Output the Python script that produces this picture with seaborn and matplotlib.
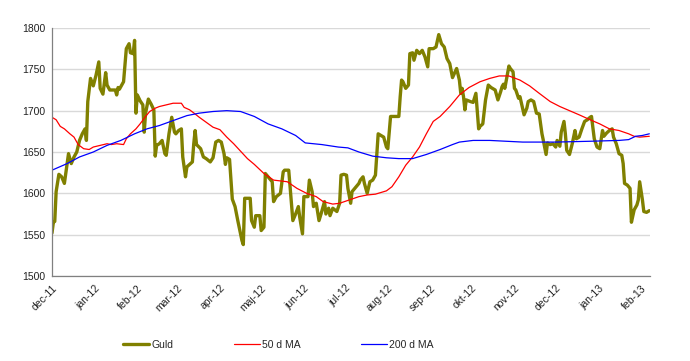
import pandas as pd
import seaborn as sns
import matplotlib.pyplot as plt

# gold price
gold_dates = [
    '2011-12-01', '2011-12-02', '2011-12-03', '2011-12-04', '2011-12-06', '2011-12-08', '2011-12-10',
    '2011-12-12', '2011-12-13', '2011-12-15', '2011-12-17', '2011-12-19', '2011-12-21', '2011-12-23',
    '2011-12-25', '2011-12-26', '2011-12-27', '2011-12-29', '2011-12-31',
    '2012-01-02', '2012-01-04', '2012-01-05', '2012-01-07', '2012-01-09', '2012-01-10', '2012-01-12',
    '2012-01-16', '2012-01-17', '2012-01-18', '2012-01-19', '2012-01-22', '2012-01-24', '2012-01-26',
    '2012-01-27', '2012-01-29', '2012-01-30', '2012-01-31',
    '2012-02-01', '2012-02-03', '2012-02-05', '2012-02-06', '2012-02-07', '2012-02-09', '2012-02-11',
    '2012-02-13', '2012-02-14', '2012-02-15', '2012-02-17', '2012-02-19', '2012-02-21', '2012-02-22',
    '2012-02-24', '2012-02-26', '2012-02-28', '2012-02-29',
    '2012-03-02', '2012-03-04', '2012-03-05', '2012-03-07', '2012-03-08', '2012-03-10', '2012-03-12',
    '2012-03-13', '2012-03-14', '2012-03-15', '2012-03-18', '2012-03-20', '2012-03-22', '2012-03-25',
    '2012-03-27', '2012-03-29', '2012-03-31',
    '2012-04-02', '2012-04-04', '2012-04-05', '2012-04-06', '2012-04-08', '2012-04-10', '2012-04-12',
    '2012-04-14', '2012-04-17', '2012-04-18', '2012-04-19', '2012-04-23', '2012-04-24', '2012-04-26',
    '2012-04-27', '2012-04-30',
    '2012-05-01', '2012-05-03', '2012-05-04', '2012-05-06', '2012-05-09', '2012-05-10', '2012-05-12',
    '2012-05-15', '2012-05-17', '2012-05-18', '2012-05-21', '2012-05-22', '2012-05-24', '2012-05-26',
    '2012-05-28', '2012-05-29', '2012-05-31',
    '2012-06-01', '2012-06-04', '2012-06-05', '2012-06-07', '2012-06-08', '2012-06-10', '2012-06-12',
    '2012-06-14', '2012-06-16', '2012-06-17', '2012-06-19', '2012-06-20', '2012-06-22', '2012-06-25',
    '2012-06-27', '2012-06-28', '2012-06-30',
    '2012-07-02', '2012-07-03', '2012-07-05', '2012-07-06', '2012-07-09', '2012-07-11', '2012-07-12',
    '2012-07-14', '2012-07-15', '2012-07-17', '2012-07-19', '2012-07-21', '2012-07-23', '2012-07-25',
    '2012-07-27', '2012-07-29', '2012-07-31',
    '2012-08-01', '2012-08-03', '2012-08-06', '2012-08-09', '2012-08-10', '2012-08-11', '2012-08-12',
    '2012-08-14', '2012-08-16', '2012-08-17', '2012-08-19', '2012-08-20', '2012-08-22', '2012-08-24',
    '2012-08-26', '2012-08-28', '2012-08-30', '2012-08-31',
    '2012-09-03', '2012-09-05', '2012-09-07', '2012-09-09', '2012-09-11', '2012-09-13', '2012-09-15',
    '2012-09-17', '2012-09-20', '2012-09-22', '2012-09-23', '2012-09-24', '2012-09-25', '2012-09-26',
    '2012-09-27', '2012-09-30',
    '2012-10-02', '2012-10-04', '2012-10-06', '2012-10-07', '2012-10-09', '2012-10-11', '2012-10-13',
    '2012-10-15', '2012-10-18', '2012-10-20', '2012-10-22', '2012-10-23', '2012-10-24', '2012-10-25',
    '2012-10-28', '2012-10-29', '2012-10-31',
    '2012-11-01', '2012-11-02', '2012-11-04', '2012-11-05', '2012-11-08', '2012-11-10', '2012-11-11',
    '2012-11-13', '2012-11-15', '2012-11-17', '2012-11-19', '2012-11-21', '2012-11-22', '2012-11-24',
    '2012-11-25', '2012-11-27', '2012-11-29',
    '2012-12-01', '2012-12-02', '2012-12-04', '2012-12-05', '2012-12-07', '2012-12-08', '2012-12-09',
    '2012-12-11', '2012-12-13', '2012-12-15', '2012-12-16', '2012-12-18', '2012-12-20', '2012-12-22',
    '2012-12-24', '2012-12-26', '2012-12-27', '2012-12-29', '2012-12-31',
    '2013-01-02', '2013-01-04', '2013-01-05', '2013-01-07', '2013-01-09', '2013-01-11', '2013-01-12',
    '2013-01-14', '2013-01-16', '2013-01-18', '2013-01-19', '2013-01-20', '2013-01-22', '2013-01-24',
    '2013-01-25', '2013-01-27', '2013-01-29', '2013-01-30', '2013-01-31',
    '2013-02-02', '2013-02-03', '2013-02-05', '2013-02-07',
]
gold_values = [
    1552, 1565, 1566, 1602, 1623, 1620, 1612,
    1636, 1648, 1636, 1644, 1650, 1664, 1672,
    1678, 1664, 1711, 1739, 1730,
    1743, 1759, 1727, 1720, 1746, 1731, 1725,
    1725, 1719, 1728, 1726, 1735, 1775, 1781,
    1770, 1769, 1785, 1697,
    1719, 1712, 1707, 1674, 1697, 1714, 1708,
    1701, 1645, 1658, 1660, 1664, 1648, 1646,
    1672, 1692, 1674, 1672,
    1676, 1678, 1644, 1620, 1632, 1635, 1638,
    1660, 1676, 1659, 1654, 1644, 1642, 1638,
    1643, 1662, 1664,
    1662, 1648, 1635, 1643, 1641, 1593, 1584,
    1567, 1543, 1538, 1594, 1594, 1567, 1559,
    1573, 1573,
    1555, 1559, 1624, 1620, 1614, 1590, 1596,
    1600, 1626, 1628, 1628, 1608, 1567, 1575,
    1584, 1571, 1551,
    1596, 1596, 1616, 1602, 1584, 1588, 1567,
    1578, 1590, 1575, 1582, 1573, 1582, 1578,
    1588, 1622, 1623,
    1622, 1606, 1588, 1602, 1608, 1612, 1616,
    1620, 1612, 1600, 1614, 1616, 1622, 1672,
    1670, 1668, 1656,
    1654, 1693, 1693, 1693, 1717, 1737, 1735,
    1727, 1731, 1769, 1770, 1761, 1773, 1769,
    1773, 1765, 1753, 1775,
    1775, 1777, 1792, 1781, 1777, 1763, 1757,
    1740, 1751, 1737, 1721, 1727, 1717, 1701,
    1713, 1711,
    1710, 1721, 1678, 1681, 1684, 1713, 1731,
    1728, 1725, 1713, 1723, 1729, 1732, 1727,
    1754, 1751, 1747,
    1727, 1725, 1715, 1717, 1695, 1703, 1711,
    1713, 1711, 1697, 1696, 1672, 1664, 1647,
    1661, 1659, 1660,
    1656, 1664, 1657, 1674, 1687, 1672, 1652,
    1647, 1660, 1676, 1666, 1668, 1678, 1687,
    1689, 1692, 1693, 1666, 1656,
    1654, 1676, 1669, 1673, 1676, 1678, 1668,
    1660, 1648, 1646, 1636, 1612, 1610, 1606,
    1565, 1580, 1586, 1592, 1614,
    1592, 1578, 1577, 1579,
]

# 50-day moving average
ma50_dates = [
    '2011-12-01', '2011-12-04', '2011-12-07', '2011-12-10', '2011-12-14', '2011-12-17', '2011-12-20',
    '2011-12-24', '2011-12-28', '2011-12-31', '2012-01-05', '2012-01-10', '2012-01-13', '2012-01-17',
    '2012-01-22', '2012-01-24', '2012-01-27', '2012-01-31', '2012-02-03', '2012-02-07', '2012-02-10',
    '2012-02-14', '2012-02-17', '2012-02-22', '2012-02-27', '2012-03-04', '2012-03-06', '2012-03-10',
    '2012-03-14', '2012-03-17', '2012-03-22', '2012-03-27', '2012-04-01', '2012-04-06', '2012-04-11',
    '2012-04-16', '2012-04-21', '2012-04-26', '2012-05-03', '2012-05-10', '2012-05-20', '2012-05-27',
    '2012-06-03', '2012-06-10', '2012-06-15', '2012-06-22', '2012-06-27', '2012-07-04', '2012-07-11',
    '2012-07-17', '2012-07-23', '2012-07-31', '2012-08-04', '2012-08-09', '2012-08-14', '2012-08-19',
    '2012-08-24', '2012-08-29', '2012-09-03', '2012-09-08', '2012-09-15', '2012-09-22', '2012-09-29',
    '2012-10-07', '2012-10-14', '2012-10-21', '2012-10-28', '2012-11-05', '2012-11-12', '2012-11-19',
    '2012-11-27', '2012-12-04', '2012-12-11', '2012-12-18', '2012-12-26', '2013-01-02', '2013-01-09',
    '2013-01-16', '2013-01-23', '2013-01-27', '2013-01-31', '2013-02-07',
]
ma50_values = [
    1692, 1689, 1681, 1678, 1672, 1668, 1659,
    1654, 1653, 1656, 1658, 1660, 1659, 1660,
    1659, 1666, 1672, 1678, 1684, 1693, 1699,
    1703, 1705, 1707, 1709, 1709, 1704, 1701,
    1696, 1692, 1686, 1680, 1677, 1668, 1660,
    1651, 1642, 1635, 1624, 1616, 1614, 1606,
    1600, 1596, 1590, 1587, 1588, 1592, 1596,
    1598, 1599, 1603, 1608, 1620, 1634, 1644,
    1656, 1672, 1687, 1693, 1705, 1719, 1728,
    1735, 1739, 1742, 1742, 1737, 1730, 1721,
    1711, 1705, 1700, 1695, 1689, 1684, 1678,
    1676, 1672, 1669, 1668, 1669,
]

# 200-day moving average
ma200_dates = [
    '2011-12-01', '2011-12-12', '2011-12-21', '2011-12-31', '2012-01-10', '2012-01-20', '2012-01-30',
    '2012-02-08', '2012-02-17', '2012-02-27', '2012-03-08', '2012-03-17', '2012-03-27', '2012-04-06',
    '2012-04-16', '2012-04-26', '2012-05-06', '2012-05-16', '2012-05-26', '2012-06-02', '2012-06-14',
    '2012-06-26', '2012-07-03', '2012-07-11', '2012-07-21', '2012-07-31', '2012-08-09', '2012-08-19',
    '2012-08-29', '2012-09-08', '2012-09-17', '2012-09-22', '2012-10-02', '2012-10-14', '2012-10-26',
    '2012-11-07', '2012-12-01', '2012-12-26', '2013-01-16', '2013-01-23', '2013-01-28', '2013-02-02',
    '2013-02-07',
]
ma200_values = [
    1628, 1636, 1644, 1650, 1658, 1664, 1672,
    1678, 1682, 1688, 1694, 1697, 1699, 1700,
    1699, 1693, 1684, 1678, 1670, 1661, 1659,
    1656, 1655, 1650, 1645, 1643, 1642, 1642,
    1647, 1653, 1659, 1662, 1664, 1664, 1663,
    1662, 1662, 1663, 1664, 1665, 1669, 1670,
    1672,
]

month_labels = ['dec-11', 'jan-12', 'feb-12', 'mar-12', 'apr-12', 'maj-12', 'jun-12', 'jul-12',
                'aug-12', 'sep-12', 'okt-12', 'nov-12', 'dec-12', 'jan-13', 'feb-13']
y_ticks = [1500, 1550, 1600, 1650, 1700, 1750, 1800]

sns.set_style('white')
plt.rcParams['font.family'] = ['Liberation Sans', 'DejaVu Sans']

gold = pd.DataFrame({'date': pd.to_datetime(gold_dates), 'value': gold_values})
ma50 = pd.DataFrame({'date': pd.to_datetime(ma50_dates), 'value': ma50_values})
ma200 = pd.DataFrame({'date': pd.to_datetime(ma200_dates), 'value': ma200_values})

fig = plt.figure(figsize=(6.9, 3.61), dpi=100)
ax = fig.add_axes([52 / 690, 1 - 276 / 361, 598 / 690, 248 / 361])

sns.lineplot(data=gold, x='date', y='value', color='#808000', lw=2.4, ax=ax, label='Guld')
sns.lineplot(data=ma50, x='date', y='value', color='#ff0000', lw=0.9, ax=ax, label='50 d MA')
sns.lineplot(data=ma200, x='date', y='value', color='#0000ff', lw=0.9, ax=ax, label='200 d MA')

# axes
ax.set_ylim(1500, 1800)
ax.set_yticks(y_ticks)
ax.set_yticklabels([str(v) for v in y_ticks], fontsize=7.5, color='#222222')
ax.set_xlim(pd.Timestamp('2011-12-01'), pd.Timestamp('2013-02-07 12:00'))
month_ticks = pd.date_range('2011-12-01', '2013-02-01', freq='MS')
ax.set_xticks(month_ticks)
ax.set_xticklabels(month_labels, rotation=45, ha='right', rotation_mode='anchor',
                   fontsize=7.5, color='#222222')
ax.set_xlabel('')
ax.set_ylabel('')

ax.yaxis.grid(True, color='#d9d9d9', lw=1)
ax.xaxis.grid(False)
ax.set_axisbelow(True)
for s in ['top', 'right']:
    ax.spines[s].set_visible(False)
for s in ['left', 'bottom']:
    ax.spines[s].set_color('#808080')
    ax.spines[s].set_linewidth(0.9)
ax.tick_params(axis='both', which='major', direction='out', length=3, width=0.8,
               color='#808080', pad=2)

handles, labels = ax.get_legend_handles_labels()
ax.get_legend().remove()
fig.legend(handles, labels, loc='center left', bbox_to_anchor=(114 / 690, 1 - 345 / 361),
           ncol=3, frameon=False, fontsize=7.5, handlelength=2.5, handletextpad=0.2,
           columnspacing=5.8)

fig.savefig('out.png', dpi=100)
